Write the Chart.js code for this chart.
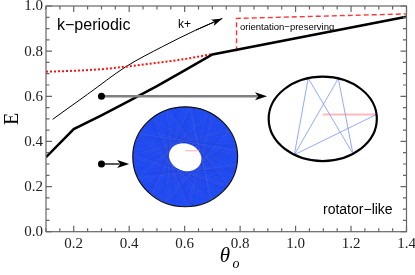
<!DOCTYPE html>
<html>
<head>
<meta charset="utf-8">
<script src="https://cdn.jsdelivr.net/npm/chart.js@4.4.1/dist/chart.umd.min.js"></script>
<style>
  html, body { margin: 0; padding: 0; background: #fff; }
  canvas { display: block; }
</style>
</head>
<body>
<canvas id="chart" width="415" height="275"></canvas>
<script>
// boundary between k-periodic and rotator-like (thick black)
const thetaBound = [0.1, 0.2, 0.3, 0.4, 0.5, 0.6, 0.7, 1.4];
const eBound = [0.33, 0.455, 0.515, 0.58, 0.645, 0.715, 0.785, 0.952];
// red dotted curve
const thetaDotted = [0.1, 0.2, 0.3, 0.4, 0.5, 0.6, 0.7];
const eDotted = [0.709, 0.713, 0.72, 0.733, 0.748, 0.765, 0.787];
// orientation-preserving region (red dashed)
const thetaDashed = [0.787, 0.787, 1.4];
const eDashed = [0.80, 0.945, 0.965];
// k+ guide curve (thin black, arrow at the end)
const thetaK = [0.124, 0.25, 0.388, 0.52, 0.64, 0.736];
const eK = [0.498, 0.609, 0.731, 0.82, 0.893, 0.945];

const xTicks = [0.2, 0.4, 0.6, 0.8, 1.0, 1.2, 1.4];
const yTicks = [0.0, 0.2, 0.4, 0.6, 0.8, 1.0];

const pts = (xs, ys) => xs.map((x, i) => ({ x: x, y: ys[i] }));

function arrow(ctx, x0, y0, x1, y1, color, width, headLen, headW) {
  const a = Math.atan2(y1 - y0, x1 - x0);
  const bx = x1 - Math.cos(a) * headLen * 0.8, by = y1 - Math.sin(a) * headLen * 0.8;
  ctx.save();
  ctx.strokeStyle = color;
  ctx.lineWidth = width;
  ctx.beginPath();
  ctx.moveTo(x0, y0);
  ctx.lineTo(bx, by);
  ctx.stroke();
  ctx.translate(x1, y1);
  ctx.rotate(a);
  ctx.fillStyle = '#000';
  ctx.beginPath();
  ctx.moveTo(0, 0);
  ctx.lineTo(-headLen, -headW);
  ctx.lineTo(-headLen * 0.75, 0);
  ctx.lineTo(-headLen, headW);
  ctx.closePath();
  ctx.fill();
  ctx.restore();
}

function dot(ctx, x, y) {
  ctx.beginPath();
  ctx.arc(x, y, 3.5, 0, 2 * Math.PI);
  ctx.fillStyle = '#000';
  ctx.fill();
}

// frame with inward ticks on all four sides, plus serif tick labels
const framePlugin = {
  id: 'frame',
  afterDatasetsDraw(chart) {
    const { ctx, chartArea: a, scales: { x, y } } = chart;
    ctx.save();
    ctx.strokeStyle = '#666';
    ctx.lineWidth = 1.2;
    ctx.strokeRect(a.left, a.top, a.right - a.left, a.bottom - a.top);
    ctx.beginPath();
    for (let v = 0.1; v <= 1.4001; v += 0.05) {
      const px = x.getPixelForValue(v);
      const major = Math.abs(v * 5 - Math.round(v * 5)) < 1e-6;
      const len = major ? 6 : 3.5;
      ctx.moveTo(px, a.bottom); ctx.lineTo(px, a.bottom - len);
      ctx.moveTo(px, a.top); ctx.lineTo(px, a.top + len);
    }
    for (let v = 0; v <= 1.0001; v += 0.05) {
      const py = y.getPixelForValue(v);
      const major = Math.abs(v * 5 - Math.round(v * 5)) < 1e-6;
      const len = major ? 6 : 3.5;
      ctx.moveTo(a.left, py); ctx.lineTo(a.left + len, py);
      ctx.moveTo(a.right, py); ctx.lineTo(a.right - len, py);
    }
    ctx.stroke();

    ctx.fillStyle = '#222';
    ctx.font = '15px "Liberation Serif"';
    ctx.textAlign = 'center';
    ctx.textBaseline = 'alphabetic';
    x.ticks.forEach(t => ctx.fillText(t.value.toFixed(1), x.getPixelForValue(t.value), a.bottom + 16));
    ctx.textAlign = 'right';
    ctx.textBaseline = 'middle';
    y.ticks.forEach(t => ctx.fillText(t.value.toFixed(1), a.left - 3, y.getPixelForValue(t.value) + 0.5));
    ctx.restore();
  }
};

const insetPlugin = {
  id: 'insets',
  afterDraw(chart) {
    const { ctx, scales: { x, y } } = chart;
    const X = v => x.getPixelForValue(v), Y = v => y.getPixelForValue(v);
    ctx.save();

    // k+ arrow head
    const n = thetaK.length;
    arrow(ctx, X(thetaK[n - 2]), Y(eK[n - 2]), X(thetaK[n - 1]), Y(eK[n - 1]), '#000', 1, 11, 3.5);

    // rotator-like orbit (dense annulus)
    const cx = X(0.602), cy = Y(0.332);
    const rx = X(0.602 + 0.189) - cx, ry = cy - Y(0.332 + 0.2215);
    ctx.save();
    ctx.beginPath();
    ctx.ellipse(cx, cy, rx, ry, 0, 0, 2 * Math.PI);
    ctx.fillStyle = '#1f4bf3';
    ctx.fill();
    ctx.clip();
    const span = 2 * Math.acos(0.3);
    ctx.lineWidth = 0.3;
    for (let i = 0; i < 900; i++) {
      const t = i * 2.39996 + 0.37 * Math.sin(i * 1.7);
      ctx.strokeStyle = i % 3 ? 'rgba(130,160,255,0.13)' : 'rgba(0,30,210,0.18)';
      ctx.beginPath();
      ctx.moveTo(cx + rx * Math.cos(t), cy + ry * Math.sin(t));
      ctx.lineTo(cx + rx * Math.cos(t + span), cy + ry * Math.sin(t + span));
      ctx.stroke();
    }
    ctx.restore();
    ctx.beginPath();
    ctx.ellipse(cx, cy + 0.5, 16.5, 13.5, 0.35, 0, 2 * Math.PI);
    ctx.fillStyle = '#fff';
    ctx.fill();
    ctx.strokeStyle = 'rgba(255,150,150,0.8)';
    ctx.lineWidth = 1;
    ctx.beginPath();
    ctx.moveTo(cx, cy - 6); ctx.lineTo(cx + 14, cy - 6);
    ctx.stroke();
    ctx.beginPath();
    ctx.ellipse(cx, cy, rx, ry, 0, 0, 2 * Math.PI);
    ctx.strokeStyle = '#111';
    ctx.lineWidth = 1.2;
    ctx.stroke();

    // k-periodic orbit (ellipse with star)
    const ex = X(1.098), ey = Y(0.5);
    const erx = X(1.098 + 0.195) - ex, ery = ey - Y(0.5 + 0.187);
    const P = deg => [ex + erx * Math.cos(deg * Math.PI / 180), ey + ery * Math.sin(deg * Math.PI / 180)];
    const A = P(-105.6), B = P(-73.3), C = P(121.7), D = P(56), E = P(-6);
    ctx.strokeStyle = 'rgba(255,185,185,1)';
    ctx.lineWidth = 2;
    ctx.beginPath();
    ctx.moveTo(ex, E[1]); ctx.lineTo(E[0], E[1]);
    ctx.stroke();
    ctx.strokeStyle = 'rgba(120,150,255,0.9)';
    ctx.lineWidth = 0.9;
    ctx.beginPath();
    ctx.moveTo(E[0], E[1]); ctx.lineTo(C[0], C[1]); ctx.lineTo(A[0], A[1]);
    ctx.lineTo(D[0], D[1]); ctx.lineTo(B[0], B[1]); ctx.lineTo(C[0], C[1]);
    ctx.stroke();
    ctx.beginPath();
    ctx.ellipse(ex, ey, erx, ery, 0, 0, 2 * Math.PI);
    ctx.strokeStyle = '#000';
    ctx.lineWidth = 2.2;
    ctx.stroke();

    // pointer arrows
    arrow(ctx, X(0.3), Y(0.6), X(0.897), Y(0.6), '#808080', 2.5, 12, 4);
    dot(ctx, X(0.3), Y(0.6));
    arrow(ctx, X(0.3), Y(0.3), X(0.4), Y(0.3), '#000', 1.3, 12, 4);
    dot(ctx, X(0.3), Y(0.3));

    // labels
    ctx.fillStyle = '#000';
    ctx.textBaseline = 'alphabetic';
    ctx.textAlign = 'left';
    ctx.font = '16px "Liberation Sans"';
    ctx.fillText('k\u2212periodic', 57, 30);
    ctx.font = '12px "Liberation Sans"';
    ctx.fillText('k+', 178, 28);
    ctx.font = '9.5px "Liberation Sans"';
    ctx.fillText('orientation\u2212preserving', 240, 30);
    ctx.font = '14px "Liberation Sans"';
    ctx.fillText('rotator\u2212like', 323, 214);

    // axis titles
    ctx.font = '20px "Liberation Serif"';
    ctx.textAlign = 'center';
    ctx.textBaseline = 'middle';
    ctx.save();
    ctx.translate(13, 119);
    ctx.rotate(-Math.PI / 2);
    ctx.fillText('E', 0, 0);
    ctx.restore();
    ctx.font = 'italic 21px "Liberation Serif"';
    ctx.fillText('\u03b8', 225, 256);
    ctx.font = 'italic 14px "Liberation Serif"';
    ctx.fillText('o', 236, 264);
    ctx.restore();
  }
};

function draw() {
  new Chart(document.getElementById('chart').getContext('2d'), {
    type: 'line',
    data: {
      datasets: [
        {
          label: 'boundary',
          data: pts(thetaBound, eBound),
          borderColor: '#000',
          borderWidth: 2.5,
          pointRadius: 0,
          tension: 0
        },
        {
          label: 'dotted',
          data: pts(thetaDotted, eDotted),
          borderColor: '#ff1010',
          borderWidth: 2,
          borderDash: [2, 2],
          pointRadius: 0,
          cubicInterpolationMode: 'monotone'
        },
        {
          label: 'orientation-preserving',
          data: pts(thetaDashed, eDashed),
          borderColor: '#ff3535',
          borderWidth: 1.4,
          borderDash: [5, 3],
          pointRadius: 0,
          tension: 0
        },
        {
          label: 'k+',
          data: pts(thetaK, eK),
          borderColor: '#000',
          borderWidth: 1,
          pointRadius: 0,
          cubicInterpolationMode: 'monotone'
        }
      ]
    },
    options: {
      responsive: false,
      animation: false,
      devicePixelRatio: 1,
      layout: { padding: { top: 6, right: 8.5, left: 0, bottom: 0 } },
      plugins: { legend: { display: false }, tooltip: { enabled: false } },
      scales: {
        x: {
          type: 'linear',
          min: 0.1,
          max: 1.4,
          afterBuildTicks: s => { s.ticks = xTicks.map(v => ({ value: v })); },
          afterFit: s => { s.height = 43.3; },
          grid: { display: false, drawTicks: false },
          border: { display: false },
          ticks: { display: false }
        },
        y: {
          type: 'linear',
          min: 0,
          max: 1,
          afterBuildTicks: s => { s.ticks = yTicks.map(v => ({ value: v })); },
          afterFit: s => { s.width = 46; },
          grid: { display: false, drawTicks: false },
          border: { display: false },
          ticks: { display: false }
        }
      }
    },
    plugins: [framePlugin, insetPlugin]
  });
}

Promise.all([
  document.fonts.load('15px "Liberation Serif"'),
  document.fonts.load('italic 15px "Liberation Serif"'),
  document.fonts.load('15px "Liberation Sans"')
]).then(draw, draw);
</script>
</body>
</html>
